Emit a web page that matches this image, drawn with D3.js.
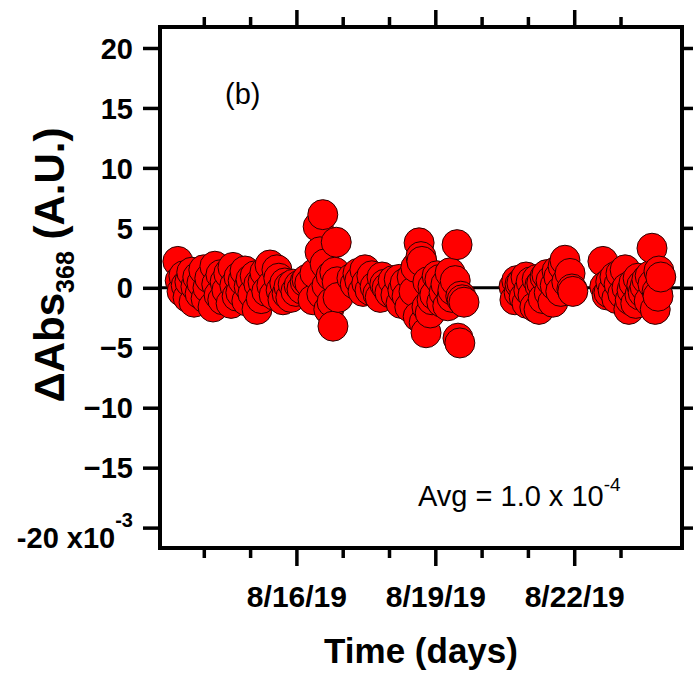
<!DOCTYPE html>
<html>
<head>
<meta charset="utf-8">
<style>
  body { margin: 0; background: #fff; }
  svg { display: block; font-family: "Liberation Sans", Arial, sans-serif; }
  .axis path { display: none; }
  .axis line { stroke: #000; stroke-width: 3.5; }
  .axis text { fill: #000; font-weight: bold; font-family: "Liberation Sans", Arial, sans-serif; }
  .dot { fill: #ff0000; stroke: #2a0000; stroke-width: 1; }
</style>
</head>
<body>
<svg width="693" height="675"></svg>
<script src="https://d3js.org/d3.v7.min.js"></script>
<script>
// time in days of August 2019, dAbs in units of 1e-3 A.U.
var days = [
  13.44, 13.49, 13.53, 13.57, 13.62, 13.66, 13.70, 13.74, 13.79, 13.83, 13.87, 13.92, 13.96, 14.00,
  14.05, 14.09, 14.13, 14.20, 14.24, 14.28, 14.33, 14.37, 14.41, 14.46, 14.50, 14.54, 14.59, 14.63,
  14.67, 14.72, 14.76, 14.80, 14.85, 14.89, 14.93, 14.98, 15.02, 15.06, 15.11, 15.15, 15.19, 15.24,
  15.28, 15.32, 15.36, 15.43, 15.47, 15.52, 15.58, 15.62, 15.67, 15.71, 15.75, 15.80, 15.84, 15.88,
  15.93, 15.99, 16.06, 16.12, 16.19,
  16.23, 16.29, 16.36, 16.40, 16.47, 16.51, 16.55, 16.57, 16.62, 16.66, 16.70, 16.75, 16.77, 16.79,
  16.83, 16.86, 16.88, 16.90,
  17.20, 17.27, 17.33, 17.37, 17.44, 17.48, 17.52, 17.59, 17.63, 17.70, 17.76, 17.81, 17.85, 17.91,
  17.96, 18.02, 18.09,
  18.15, 18.22, 18.26, 18.30, 18.35, 18.39, 18.45, 18.50, 18.54, 18.58, 18.63, 18.65, 18.69, 18.71,
  18.76, 18.80, 18.82, 18.84, 18.89, 18.93, 18.95, 18.99, 19.04, 19.10, 19.14, 19.19, 19.23, 19.27,
  19.32, 19.36, 19.38, 19.43, 19.47, 19.49, 19.53, 19.55, 19.58, 19.62,
  20.70, 20.72, 20.76, 20.81, 20.83, 20.87, 20.92, 20.96, 20.98, 21.02, 21.07, 21.11, 21.15, 21.20,
  21.24, 21.26, 21.30, 21.33, 21.37, 21.41, 21.46, 21.50, 21.54, 21.59, 21.63, 21.67, 21.71, 21.76,
  21.80, 21.84, 21.91, 21.95, 21.97,
  22.62, 22.66, 22.71, 22.75, 22.79, 22.84, 22.88, 22.92, 22.97, 23.01, 23.05, 23.10, 23.14, 23.18,
  23.21, 23.25, 23.29, 23.33, 23.38, 23.42, 23.46, 23.49, 23.53, 23.57, 23.62, 23.64, 23.68, 23.70,
  23.75, 23.79, 23.81, 23.83, 23.87
];
var dAbs = [
  2.2, 0.6, -0.3, 1.0, 0.2, -0.8, 0.5, 1.3, -1.2, 0.1, 0.9, -0.5, 0.4, 1.5,
  -0.9, 0.0, 0.8, -1.6, 1.8, 0.3, -0.6, 1.1, -1.0, 0.5, -0.2, 1.2, -1.3, 1.7,
  0.2, -0.7, 0.9, -0.4, 0.6, 1.4, -1.1, 0.1, 0.7, -0.5, 1.0, -1.8, 0.3, -0.9,
  0.5, 1.3, -0.3, 1.9, 0.2, -0.6, 1.5, 0.8, -0.2, -1.0, 0.4, -0.5, 0.1, -0.8,
  0.3, -0.3, 0.2, -0.1, 0.5,
  0.7, 0.4, -1.0, 1.2, 5.1, 3.0, -0.5, 6.1, 2.0, 0.2, -1.8, 1.0, -1.2, -3.2,
  1.3, 3.8, 0.5, -0.8,
  0.8, 0.3, 1.2, 0.6, -0.3, 1.5, 0.4, -0.2, 1.0, 0.1, -0.5, -0.8, 0.9, 0.3,
  0.0, -0.4, 0.6,
  -0.6, 0.7, -1.3, -0.2, 0.4, -0.7, -1.6, 0.9, -0.3, 1.7, -2.4, 3.75, 2.6, 2.2,
  -2.9, -3.75, -1.6, 0.5, -2.1, -1.0, 0.1, -0.6, 1.0, 0.7, -1.2, -0.4, 0.3, -1.5,
  1.25, -0.8, -0.2, 0.6, 3.6, -4.2, -4.6, -0.7, -1.0, -1.2,
  0.1, -1.0, 0.6, -0.4, 0.3, 0.4, -0.8, 0.9, -1.3, -0.2, 0.5, -0.6, -1.6, 0.7,
  -1.8, 0.2, 0.4, -0.9, 0.9, 1.1, -0.4, 0.6, -1.2, 0.2, 1.4, 0.9, -0.3, 1.8,
  2.3, 0.5, 1.2, -0.1, -0.3, 2.2,
  0.1, -0.6, -0.4, 0.5, -0.2, 0.9, -0.9, 0.3, 1.2, -0.5, 1.5, 0.0, -1.8, -1.0,
  -0.2, 0.4, -1.3, 0.8, -0.6, 0.2, -0.4, 0.1, 0.7, -1.1, 1.0, 3.3, 0.3, -1.8,
  -0.3, -0.7, 1.4, 0.9, 3.2
];
var yTicks = [-20, -15, -10, -5, 0, 5, 10, 15, 20];
var majorDays = [16, 19, 22];
var minorDays = [14, 15, 17, 18, 20, 21, 23];
var xRange = [13.054, 24.328];
var yRange = [-21.7, 21.75];

function dayToDate(d) { return new Date(Date.UTC(2019, 7, 1) + (d - 1) * 864e5); }

var svg = d3.select("svg"),
    margin = {top: 27, left: 160, right: 11, bottom: 127},
    width = +svg.attr("width") - margin.left - margin.right,
    height = +svg.attr("height") - margin.top - margin.bottom,
    g = svg.append("g").attr("transform", "translate(" + margin.left + "," + margin.top + ")");

var x = d3.scaleUtc().domain(xRange.map(dayToDate)).range([0, width]),
    y = d3.scaleLinear().domain(yRange).range([height, 0]);

var points = days.map(function(d, i) { return {t: dayToDate(d), v: dAbs[i]}; });

// zero line
g.append("line")
    .attr("x1", 0).attr("x2", width)
    .attr("y1", y(0)).attr("y2", y(0))
    .attr("stroke", "#000").attr("stroke-width", 3);

// data
g.selectAll(".dot")
    .data(points)
  .enter().append("circle")
    .attr("class", "dot")
    .attr("cx", function(d) { return x(d.t); })
    .attr("cy", function(d) { return y(d.v); })
    .attr("r", 15);

// frame
g.append("rect")
    .attr("width", width).attr("height", height)
    .attr("fill", "none").attr("stroke", "#000").attr("stroke-width", 4);

// x axes (bottom + mirrored top)
var fmt = d3.utcFormat("%-m/%-d/%y");
g.append("g").attr("class", "axis")
    .attr("transform", "translate(0," + height + ")")
    .call(d3.axisBottom(x).tickValues(minorDays.map(dayToDate)).tickSize(10).tickFormat(""));
var xb = g.append("g").attr("class", "axis")
    .attr("transform", "translate(0," + height + ")")
    .call(d3.axisBottom(x).tickValues(majorDays.map(dayToDate)).tickSize(18).tickFormat(fmt));
xb.selectAll("text").attr("y", 59).attr("dy", null).style("font-size", "30px");

g.append("g").attr("class", "axis")
    .call(d3.axisTop(x).tickValues(minorDays.map(dayToDate)).tickSize(10).tickFormat(""));
g.append("g").attr("class", "axis")
    .call(d3.axisTop(x).tickValues(majorDays.map(dayToDate)).tickSize(17).tickFormat(""));

// y axes (left + mirrored right)
var yl = g.append("g").attr("class", "axis")
    .call(d3.axisLeft(y).tickValues(yTicks).tickSize(17).tickPadding(10).tickFormat(d3.format("d")));
yl.selectAll("text").style("font-size", "29px").attr("dy", "0.35em");
yl.selectAll("text").filter(function(d) { return d === -20; })
    .each(function() {
      var t = d3.select(this).text(null).attr("dy", null).attr("y", 20);
      t.append("tspan").text("-20 x10");
      t.append("tspan").attr("dy", -21).style("font-size", "20px").text("-3");
    });

g.append("g").attr("class", "axis")
    .attr("transform", "translate(" + width + ",0)")
    .call(d3.axisRight(y).tickValues(yTicks).tickSize(17).tickFormat(""));

// y label
var ylab = svg.append("text")
    .attr("transform", "translate(64,265) rotate(-90)")
    .attr("text-anchor", "middle")
    .style("font-size", "42px").style("font-weight", "bold");
ylab.append("tspan").text("\u0394Abs");
ylab.append("tspan").attr("dy", 10).style("font-size", "25px").text("368");
ylab.append("tspan").attr("dy", -10).text(" (A.U.)");

// x label
svg.append("text")
    .attr("x", margin.left + width / 2).attr("y", 663)
    .attr("text-anchor", "middle")
    .style("font-size", "35px").style("font-weight", "bold")
    .text("Time (days)");

// panel tag and average
svg.append("text")
    .attr("x", 225).attr("y", 104)
    .style("font-size", "29px")
    .text("(b)");

var avg = svg.append("text")
    .attr("x", 418).attr("y", 506)
    .style("font-size", "29px");
avg.append("tspan").text("Avg = 1.0 x 10");
avg.append("tspan").attr("dy", -15).style("font-size", "19px").text("-4");
</script>
</body>
</html>
